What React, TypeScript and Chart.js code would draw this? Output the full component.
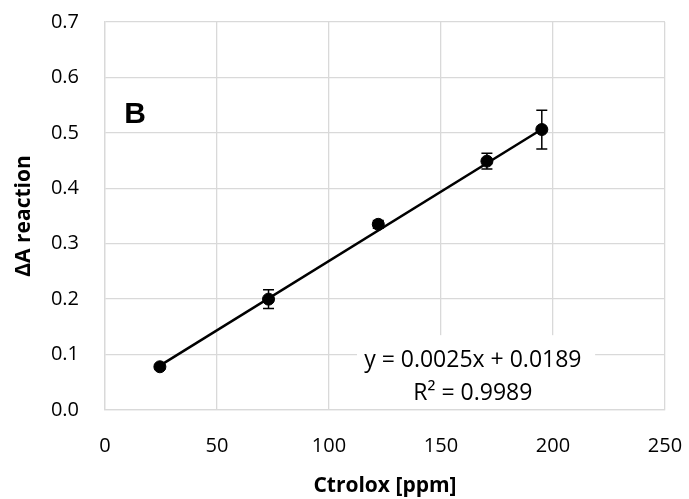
import React, { useEffect, useRef } from "react";
import { Chart, registerables } from "chart.js";

Chart.register(...registerables);

const concentrations = [24.5, 73, 122, 170.5, 195];
const deltaA = [0.078, 0.2, 0.335, 0.449, 0.506];
const errors = [0.004, 0.017, 0.007, 0.014, 0.035];
const slope = 0.0025;
const intercept = 0.0189;
const equationLines = ["y = 0.0025x + 0.0189", "R² = 0.9989"];
const panelLabel = "B";

const FONT = "'Open Sans', sans-serif";

const errorBarPlugin = {
  id: "errorBars",
  afterDatasetsDraw(chart: any) {
    const { ctx, scales } = chart;
    const xs = scales.x;
    const ys = scales.y;
    ctx.save();
    ctx.strokeStyle = "#000";
    ctx.lineWidth = 1.5;
    concentrations.forEach((c, i) => {
      const px = xs.getPixelForValue(c);
      const top = ys.getPixelForValue(deltaA[i] + errors[i]);
      const bot = ys.getPixelForValue(deltaA[i] - errors[i]);
      ctx.beginPath();
      ctx.moveTo(px, top);
      ctx.lineTo(px, bot);
      ctx.moveTo(px - 5.5, top);
      ctx.lineTo(px + 5.5, top);
      ctx.moveTo(px - 5.5, bot);
      ctx.lineTo(px + 5.5, bot);
      ctx.stroke();
    });
    ctx.restore();
  },
};

const annotationPlugin = {
  id: "annotations",
  beforeDatasetsDraw(chart: any) {
    const { ctx, scales, chartArea } = chart;
    const xs = scales.x;
    const ys = scales.y;
    ctx.save();
    // equation box
    const cx = xs.getPixelForValue(164.2);
    const cy = ys.getPixelForValue(0.089);
    const left = xs.getPixelForValue(112.5);
    const right = xs.getPixelForValue(218.8);
    const top = ys.getPixelForValue(0.135);
    ctx.fillStyle = "#fff";
    ctx.fillRect(left, top, right - left, chartArea.bottom - 1 - top);
    ctx.fillStyle = "#000";
    ctx.font = `23px ${FONT}`;
    ctx.textAlign = "center";
    ctx.textBaseline = "middle";
    ctx.fillText(equationLines[0], cx, cy);
    ctx.fillText(equationLines[1], cx, cy + 33);
    // panel label
    ctx.font = `bold 30px 'Liberation Sans', Arial, sans-serif`;
    ctx.fillText(panelLabel, xs.getPixelForValue(13.4), ys.getPixelForValue(0.532));
    ctx.restore();
  },
};

export default function App() {
  const ref = useRef<HTMLCanvasElement>(null);
  useEffect(() => {
    if (!ref.current) return;
    const x0 = concentrations[0];
    const x1 = concentrations[concentrations.length - 1];
    const chart = new Chart(ref.current, {
      type: "scatter",
      data: {
        datasets: [
          {
            type: "line",
            data: [
              { x: x0, y: slope * x0 + intercept },
              { x: x1, y: slope * x1 + intercept },
            ],
            borderColor: "#000",
            borderWidth: 2.5,
            pointRadius: 0,
            fill: false,
          } as any,
          {
            data: concentrations.map((c, i) => ({ x: c, y: deltaA[i] })),
            backgroundColor: "#000",
            borderColor: "#000",
            pointRadius: 6,
          },
        ],
      },
      options: {
        responsive: false,
        animation: false,
        layout: { padding: { left: 0, right: 24, top: 22, bottom: 0 } },
        plugins: { legend: { display: false }, tooltip: { enabled: false } },
        scales: {
          x: {
            type: "linear",
            min: 0,
            max: 250,
            ticks: {
              stepSize: 50,
              color: "#000",
              padding: 24,
              font: { family: FONT, size: 20 },
            },
            grid: { color: "#d9d9d9", lineWidth: 1.3, drawTicks: false, tickLength: 0 },
            border: { color: "#d9d9d9", width: 1.3 },
            title: {
              display: true,
              text: "Ctrolox [ppm]",
              color: "#000",
              font: { family: FONT, size: 21, weight: "bold" },
              padding: { top: 3, bottom: 0 },
            },
            afterFit(scale: any) {
              scale.height = 89;
              scale.paddingLeft = 0;
              scale.paddingRight = 0;
            },
          },
          y: {
            type: "linear",
            min: 0,
            max: 0.7,
            ticks: {
              stepSize: 0.1,
              color: "#000",
              padding: 26,
              font: { family: FONT, size: 20 },
              callback: (v: any) => Number(v).toFixed(1),
            },
            grid: { color: "#d9d9d9", lineWidth: 1.3, drawTicks: false, tickLength: 0 },
            border: { color: "#d9d9d9", width: 1.3 },
            title: {
              display: true,
              text: "ΔA reaction",
              color: "#000",
              font: { family: FONT, size: 21, weight: "bold" },
              padding: { top: 11, bottom: 0 },
            },
            afterFit(scale: any) {
              scale.width = 105;
              scale.paddingTop = 0;
              scale.paddingBottom = 0;
            },
          },
        },
      },
      plugins: [annotationPlugin, errorBarPlugin],
    });
    return () => chart.destroy();
  }, []);
  return (
    <div style={{ position: "fixed", left: 0, top: 0, width: 689, height: 499, background: "#fff" }}>
      <canvas ref={ref} width={689} height={499} style={{ width: 689, height: 499 }} />
    </div>
  );
}
